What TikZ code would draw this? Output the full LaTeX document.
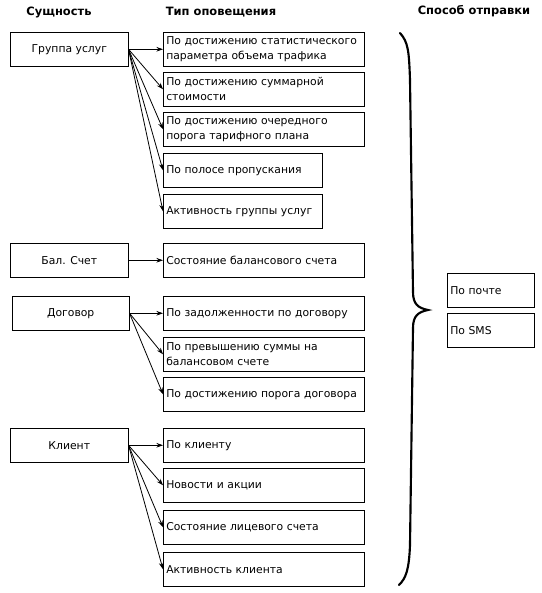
\documentclass[tikz,border=0pt]{standalone}
\usepackage{fontspec}
\setmainfont{DejaVu Sans}
\usetikzlibrary{arrows.meta}

\tikzset{
  entbox/.style={draw, thin, anchor=north west, minimum width=118*0.75pt, minimum height=34*0.75pt, inner sep=0pt, font=\fontsize{8.1}{11.25}\selectfont},
  typbox/.style={draw, thin, anchor=north west, minimum height=34*0.75pt, inner xsep=3*0.75pt, inner ysep=0pt, align=left, font=\fontsize{8.1}{11.25}\selectfont},
  wide/.style={text width=195*0.75pt},
  narrow/.style={text width=153*0.75pt},
  sendbox/.style={typbox, text width=81*0.75pt},
  head/.style={font=\fontsize{8.6}{10}\selectfont\bfseries},
  arr/.style={-{Stealth[length=5pt,width=3.5pt]}, line width=0.6pt}
}

\begin{document}
\begin{tikzpicture}[x=0.75pt, y=-0.75pt]
\useasboundingbox (0,0) rectangle (542,593);

\node[head] (hent) at (59,12) {Сущность};
\node[head] (htyp) at (221,12) {Тип оповещения};
\node[head] (hsend) at (474,11) {Способ отправки};

\node[entbox] (grp) at (10,32) {Группа услуг};
\node[entbox] (bal) at (10,243) {Бал. Счет};
\node[entbox, minimum width=117*0.75pt] (dog) at (12,296) {Договор};
\node[entbox] (cli) at (10,428) {Клиент};

\node[typbox, wide] (stat) at (163,32) {По достижению статистического\\параметра объема трафика};
\node[typbox, wide] (summ) at (163,72) {По достижению суммарной\\стоимости};
\node[typbox, wide] (porog) at (163,112) {По достижению очередного\\порога тарифного плана};
\node[typbox, narrow] (band) at (163,153) {По полосе пропускания};
\node[typbox, narrow] (grpact) at (163,194) {Активность группы услуг};

\node[typbox, wide] (balst) at (163,243) {Состояние балансового счета};

\node[typbox, wide] (debt) at (163,296) {По задолженности по договору};
\node[typbox, wide] (exceed) at (163,337) {По превышению суммы на\\балансовом счете};
\node[typbox, wide] (dogpor) at (163,377) {По достижению порога договора};

\node[typbox, wide] (bycli) at (163,428) {По клиенту};
\node[typbox, wide] (news) at (163,468) {Новости и акции};
\node[typbox, wide] (lic) at (163,510) {Состояние лицевого счета};
\node[typbox, wide] (cliact) at (163,552) {Активность клиента};

\node[sendbox] (mail) at (447,273) {По почте};
\node[sendbox] (sms) at (447,313) {По SMS};

% arrows
\draw[arr] (grp.east) -- (stat.west);
\draw[arr] (grp.east) -- (summ.west);
\draw[arr] (grp.east) -- (porog.west);
\draw[arr] (grp.east) -- (band.west);
\draw[arr] (grp.east) -- (grpact.west);

\draw[arr] (bal.east) -- (balst.west);

\draw[arr] (dog.east) -- (debt.west);
\draw[arr] (dog.east) -- (exceed.west);
\draw[arr] (dog.east) -- (dogpor.west);

\draw[arr] (cli.east) -- (bycli.west);
\draw[arr] (cli.east) -- (news.west);
\draw[arr] (cli.east) -- (lic.west);
\draw[arr] (cli.east) -- (cliact.west);

% brace
\draw[line width=1.6pt, line cap=round] (400,33) .. controls (408,42) and (409,50) .. (410,80) -- (413,292) .. controls (413,304) and (418,308) .. (428,310) .. controls (418,312) and (413,316) .. (413,328) -- (410,545) .. controls (409,570) and (406,578) .. (399,585);

\end{tikzpicture}
\end{document}
